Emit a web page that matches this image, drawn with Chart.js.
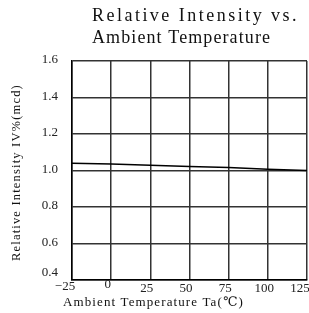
<!DOCTYPE html>
<html>
<head>
<meta charset="utf-8">
<script src="https://cdn.jsdelivr.net/npm/chart.js@4"></script>
<style>
  html, body { margin: 0; padding: 0; background: #fff; }
  #wrap { width: 309px; height: 313px; }
</style>
</head>
<body>
<div id="wrap"><canvas id="chart" width="309" height="313"></canvas></div>
<script>
// ===== DATA =====
const temps      = [-25, 0, 50, 75, 100, 125];
const intensity  = [1.04, 1.036, 1.022, 1.016, 1.007, 1.0];
const xTicks     = [-25, 0, 25, 50, 75, 100, 125];
const yTicks     = [0.4, 0.6, 0.8, 1.0, 1.2, 1.4, 1.6];
const titleLines = ['Relative Intensity vs.', 'Ambient Temperature'];
const xTitle     = 'Ambient Temperature Ta(℃)';
const yTitle     = 'Relative Intensity IV%(mcd)';

const SERIF = '"Liberation Serif", "DejaVu Serif", serif';

// draw text stretched to a given width with letter spacing (mimics half-width CJK fonts)
function spaced(ctx, text, x, y, width) {
  ctx.letterSpacing = '0px';
  const w = ctx.measureText(text).width;
  const sp = (width - w) / text.length;
  ctx.letterSpacing = sp.toFixed(2) + 'px';
  ctx.fillText(text, x, y);
  ctx.letterSpacing = '0px';
}

// ===== TITLES + TICK LABELS (drawn on canvas) =====
const titlesPlugin = {
  id: 'titles',
  afterDraw(chart) {
    const ctx = chart.ctx;
    ctx.save();
    ctx.fillStyle = '#111';
    ctx.textBaseline = 'middle';
    ctx.textAlign = 'left';
    ctx.font = '18px ' + SERIF;
    spaced(ctx, titleLines[0], 92, 16, 207);
    spaced(ctx, titleLines[1], 92, 38, 179);

    ctx.font = '13px ' + SERIF;
    spaced(ctx, xTitle, 63, 303, 181);

    // x tick labels, slightly off-centre like the datasheet
    const xs = chart.scales.x;
    ctx.fillStyle = '#222';
    ctx.textAlign = 'center';
    ctx.font = '13px ' + SERIF;
    xTicks.forEach((v, i) => {
      const edge = i === 0 || i === xTicks.length - 1;
      const px = xs.getPixelForValue(v) - (edge ? 7 : 3.5);
      const py = v === 0 ? 284.5 : (v < 0 ? 287 : 289);
      ctx.fillText(String(v).replace('-', '−'), px, py);
    });

    // y tick labels, bottom one lifted above the axis
    const ys = chart.scales.y;
    ctx.textAlign = 'right';
    yTicks.forEach((v, i) => {
      const py = ys.getPixelForValue(v) - (i === 0 ? 7 : 1);
      ctx.fillText(v.toFixed(1), 58, py);
    });

    ctx.fillStyle = '#111';
    ctx.translate(17, 261);
    ctx.rotate(-Math.PI / 2);
    ctx.textAlign = 'left';
    ctx.font = '12.5px ' + SERIF;
    spaced(ctx, yTitle, 0, 0, 177);
    ctx.restore();
  }
};

const ctx = document.getElementById('chart').getContext('2d');
new Chart(ctx, {
  type: 'line',
  data: {
    datasets: [{
      data: temps.map((t, i) => ({ x: t, y: intensity[i] })),
      borderColor: '#000',
      borderWidth: 1.5,
      pointRadius: 0,
      fill: false,
      tension: 0,
    }]
  },
  options: {
    responsive: false,
    animation: false,
    layout: { padding: { top: 61, right: 2, left: 0, bottom: 0 } },
    plugins: { legend: { display: false }, tooltip: { enabled: false } },
    scales: {
      x: {
        type: 'linear',
        min: -25, max: 125,
        afterBuildTicks: s => { s.ticks = xTicks.map(v => ({ value: v })); },
        afterFit: s => { s.height = 33; s.paddingLeft = 0; s.paddingRight = 0; },
        ticks: { display: false },
        grid: { color: '#333', lineWidth: 1.5, drawTicks: false },
        border: { color: '#000', width: 1.5 },
      },
      y: {
        type: 'linear',
        min: 0.4, max: 1.6,
        afterBuildTicks: s => { s.ticks = yTicks.map(v => ({ value: v })); },
        afterFit: s => { s.width = 72; s.paddingTop = 0; s.paddingBottom = 0; },
        ticks: { display: false },
        grid: { color: '#333', lineWidth: 1.5, drawTicks: false },
        border: { color: '#000', width: 1.5 },
      }
    }
  },
  plugins: [titlesPlugin]
});
</script>
</body>
</html>
